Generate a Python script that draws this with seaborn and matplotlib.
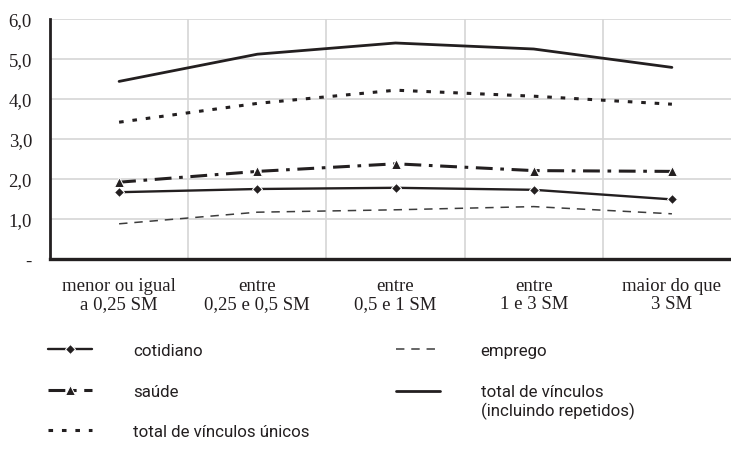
import numpy as np
import pandas as pd
import matplotlib
matplotlib.use('Agg')
import matplotlib.pyplot as plt
import seaborn as sns
from matplotlib.legend_handler import HandlerLine2D

# Data
categorias = ['menor ou igual\na 0,25 SM', 'entre\n0,25 e 0,5 SM', 'entre\n0,5 e 1 SM',
              'entre\n1 e 3 SM', 'maior do que\n3 SM']
cotidiano = [1.67, 1.75, 1.78, 1.73, 1.49]
saude = [1.92, 2.19, 2.38, 2.21, 2.19]
unicos = [3.42, 3.89, 4.22, 4.07, 3.87]
emprego = [0.88, 1.17, 1.23, 1.31, 1.13]
total = [4.44, 5.12, 5.40, 5.25, 4.79]
yticks = [0, 1, 2, 3, 4, 5, 6]
ytick_labels = ['-', '1,0', '2,0', '3,0', '4,0', '5,0', '6,0']

sns.set_theme(style='white')
plt.rcParams['font.family'] = ['Liberation Serif', 'DejaVu Serif']

ink = '#231f20'
fig = plt.figure(figsize=(7.31, 4.60), dpi=100)
ax = fig.add_axes([50 / 731, 1 - 260 / 460, 691 / 731, 240 / 460])

x = np.arange(len(categorias))

# series: (values, label, style kwargs)
series = [
    (cotidiano, 'cotidiano', dict(color=ink, lw=1.7, linestyle='-', marker='D', markersize=5.5)),
    (saude, 'saúde', dict(color=ink, lw=2.2, linestyle=(0, (5.5, 2.5, 1.2, 2.5)), marker='^', markersize=7)),
    (unicos, 'total de vínculos únicos', dict(color=ink, lw=2.2, linestyle=(0, (1.5, 2.9)))),
    (emprego, 'emprego', dict(color='#3c3c3c', lw=1.1, linestyle=(0, (5.5, 4.5)))),
    (total, 'total de vínculos\n(incluindo repetidos)', dict(color=ink, lw=2.0, linestyle='-')),
]
for vals, lab, kw in series:
    sns.lineplot(x=x, y=vals, ax=ax, label=lab, **kw)

ax.set_xlim(-0.5, 4.5)
ax.set_ylim(0, 6)
ax.set_yticks(yticks)
ax.set_yticklabels(ytick_labels, fontsize=13.5, color=ink)
ax.set_xticks(x)
ax.set_xticklabels(categorias, fontsize=13.5, color=ink, linespacing=1.1)
ax.set_xticks(np.arange(0.5, 4.6, 1), minor=True)
ax.tick_params(axis='x', which='both', length=0, pad=13)
ax.tick_params(axis='y', which='major', length=0, pad=13)

ax.grid(False)
ax.yaxis.grid(True, color='#d6d6d6', lw=1.2)
ax.xaxis.grid(True, which='minor', color='#d6d6d6', lw=1.2)
ax.set_axisbelow(True)

for s in ['top', 'right']:
    ax.spines[s].set_visible(False)
ax.spines['left'].set_color(ink)
ax.spines['left'].set_linewidth(2.0)
ax.spines['bottom'].set_color(ink)
ax.spines['bottom'].set_linewidth(2.4)
ax.set_xlabel('')
ax.set_ylabel('')


# handle for the two-line entry sits on the first line of text
class TopLineHandler(HandlerLine2D):
    def create_artists(self, legend, orig_handle, xdescent, ydescent, width, height, fontsize, trans):
        arts = super().create_artists(legend, orig_handle, xdescent, ydescent,
                                      width, height, fontsize, trans)
        for a in arts:
            a.set_ydata(np.asarray(a.get_ydata()) + 0.6 * fontsize)
        return arts


handles, labels = ax.get_legend_handles_labels()
ax.get_legend().remove()
leg = fig.legend(handles, labels, loc='upper left', bbox_to_anchor=(33 / 731, 1 - 329 / 460),
                 ncol=2, frameon=False, handlelength=2.6, handletextpad=2.4,
                 columnspacing=5.1, labelspacing=1.5,
                 handler_map={handles[4]: TopLineHandler()},
                 prop={'family': ['Liberation Sans Narrow', 'Roboto', 'DejaVu Sans'], 'size': 12.2})
for t in leg.get_texts():
    t.set_color(ink)

fig.savefig('out.png', dpi=100)
